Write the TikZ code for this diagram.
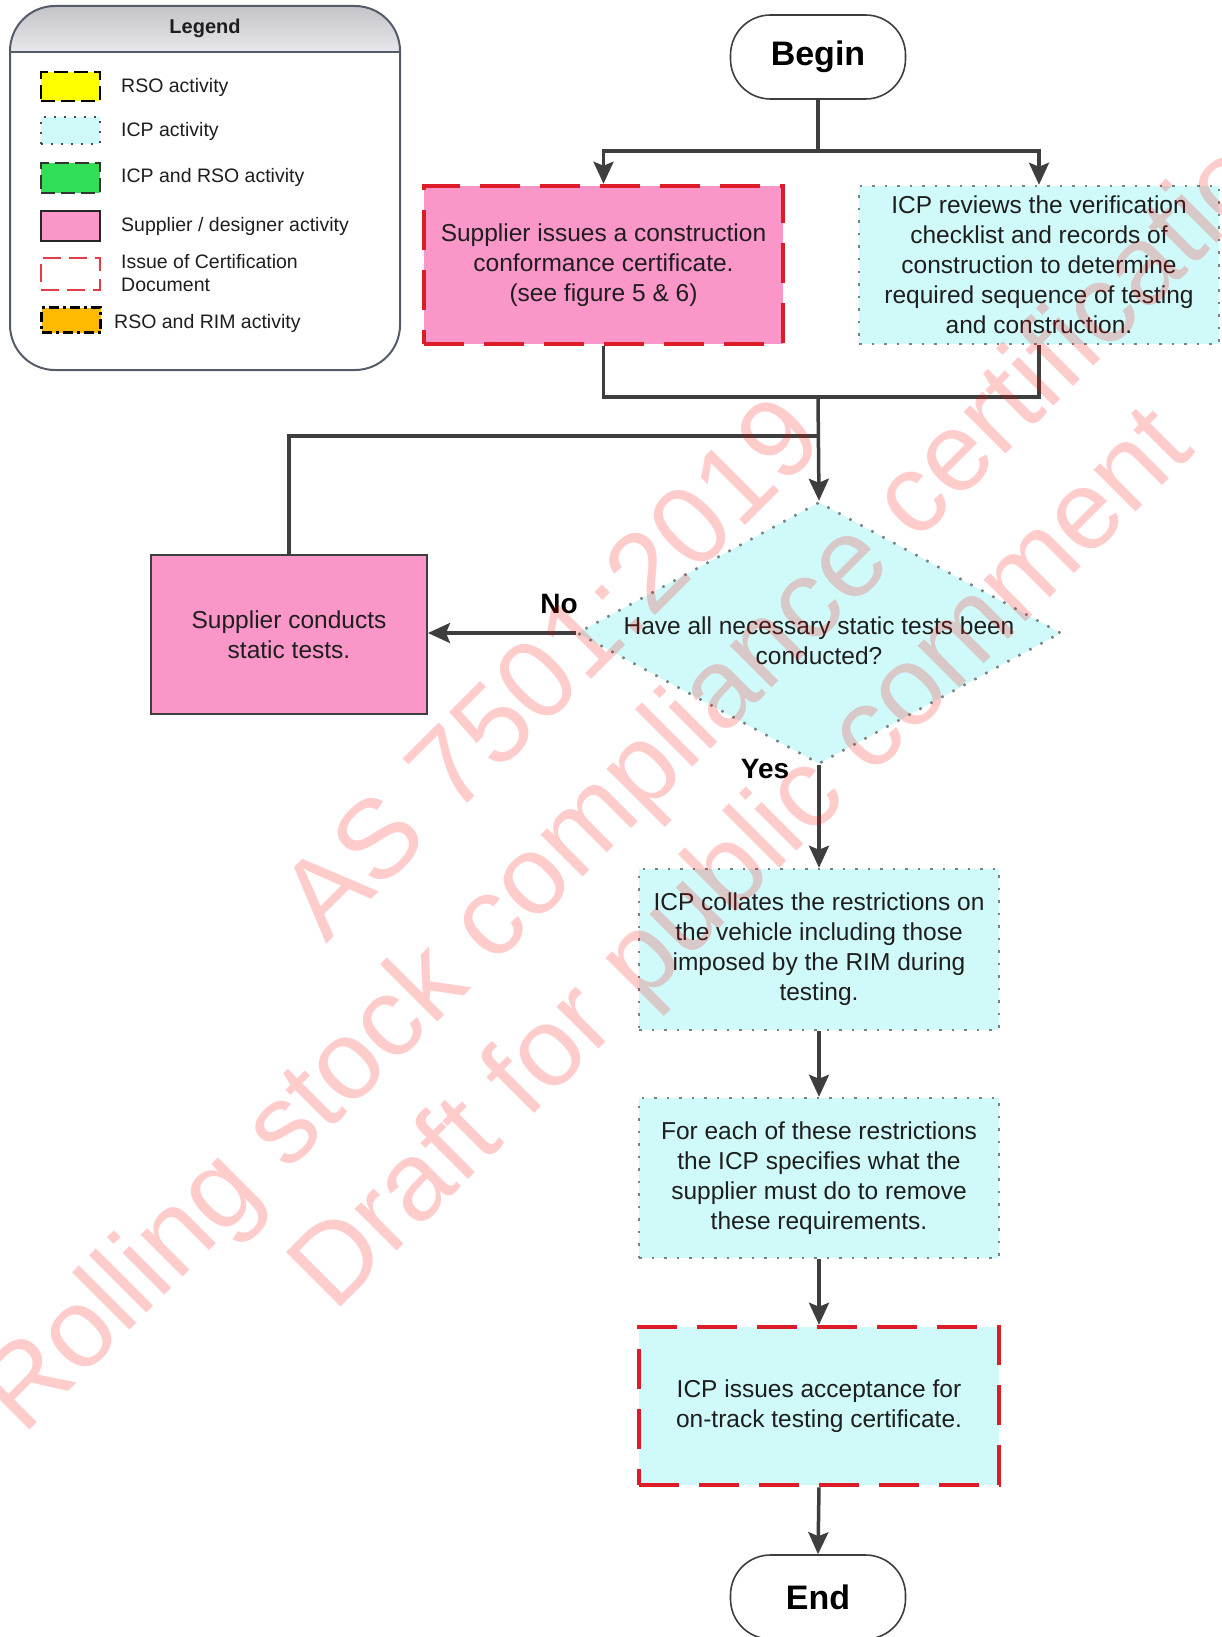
\documentclass[tikz,border=0pt]{standalone}
\usepackage{fontspec}
\setmainfont{Liberation Sans}
\usetikzlibrary{shapes.geometric,arrows.meta}

\definecolor{supplierpink}{RGB}{250,150,200}
\definecolor{icpcyan}{RGB}{208,250,250}
\definecolor{certred}{RGB}{222,28,40}
\definecolor{dotgray}{RGB}{120,130,130}
\definecolor{linegray}{RGB}{62,62,62}
\definecolor{rsoyellow}{RGB}{255,255,0}
\definecolor{icprsogreen}{RGB}{50,222,85}
\definecolor{rimorange}{RGB}{255,185,0}
\definecolor{legendedge}{RGB}{85,92,105}
\definecolor{headtop}{RGB}{196,196,200}
\definecolor{headbottom}{RGB}{232,232,236}
\definecolor{inkdark}{RGB}{30,30,30}

\begin{document}
\begin{tikzpicture}[x=1pt,y=-1pt,
  bodyfont/.style={font=\fontsize{24.5}{30}\selectfont},
  activity/.style={rectangle, inner sep=0pt, align=center, text=inkdark, bodyfont},
  icpbox/.style={fill=icpcyan, draw=dotgray, line width=2.5pt, dash pattern=on 2.5pt off 10pt},
  certedge/.style={draw=certred, line width=4.5pt, dash pattern=on 40pt off 20pt},
  terminal/.style={rectangle, draw=linegray, line width=1.6pt, fill=white,
    rounded corners=40pt, minimum width=175pt, minimum height=84pt, inner sep=0pt,
    font=\fontsize{34}{40}\selectfont\bfseries},
  decision/.style={diamond, fill=icpcyan, draw=dotgray, line width=2.5pt,
    dash pattern=on 2.5pt off 10pt, inner sep=0pt},
  branchlabel/.style={inner sep=0pt, font=\fontsize{28}{32}\selectfont\bfseries},
  conn/.style={draw=linegray, line width=3.5pt},
  arrow/.style={conn, -{Stealth[length=22pt,width=20pt,inset=4pt]}},
  swatch/.style={rectangle, inner sep=0pt, minimum width=59pt},
  legendtext/.style={inner sep=0pt, anchor=west, align=left, text=inkdark,
    font=\fontsize{19.5}{23}\selectfont},
  watermark/.style={inner sep=0pt, rotate=45, anchor=base west, text=red,
    text opacity=0.2, font=\fontsize{112}{130}\selectfont}
]
\useasboundingbox (0,0) rectangle (1221,1637);
\fill[white] (0,0) rectangle (1221,1637);

% ---------- legend ----------
\begin{scope}
  \clip[rounded corners=45pt] (10,6) rectangle (400,370);
  \shade[top color=headtop, bottom color=headbottom] (10,6) rectangle (400,52);
\end{scope}
\node[draw=legendedge, line width=2pt, rounded corners=45pt, inner sep=0pt,
  minimum width=390pt, minimum height=364pt] (legend) at (205,188) {};
\draw[legendedge, line width=2pt] (legend.west |- 0,52) -- (legend.east |- 0,52);
\node[inner sep=0pt, font=\fontsize{20}{24}\selectfont\bfseries, text=inkdark] (legendtitle) at (205,28) {Legend};

\node[swatch, minimum height=29pt, fill=rsoyellow, draw=black, line width=2.5pt,
  dash pattern=on 14pt off 6pt] (keyrso) at (70.5,86.5) {};
\node[swatch, minimum height=27pt, fill=icpcyan, draw=black!70, line width=2pt,
  dash pattern=on 2pt off 8pt] (keyicp) at (70.5,130.5) {};
\node[swatch, minimum height=30pt, fill=icprsogreen, draw=black!80, line width=2.5pt,
  dash pattern=on 14pt off 6pt] (keyboth) at (70.5,178) {};
\node[swatch, minimum height=30pt, fill=supplierpink, draw=black!85, line width=2pt] (keysup) at (70.5,226) {};
\node[swatch, minimum height=32pt, draw=certred!85, line width=2pt,
  dash pattern=on 18pt off 8pt] (keycert) at (70.5,274) {};
\node[swatch, minimum height=25pt, fill=rimorange, draw=black, line width=2.5pt,
  dash pattern=on 10pt off 4pt on 3pt off 4pt] (keyrim) at (71,320) {};

\node[legendtext] (keyrsotext) at (121,87) {RSO activity};
\node[legendtext] (keyicptext) at (121,131) {ICP activity};
\node[legendtext] (keybothtext) at (121,177) {ICP and RSO activity};
\node[legendtext] (keysuptext) at (121,226) {Supplier / designer activity};
\node[legendtext] (keycerttext) at (121,273.5) {Issue of Certification\\Document};
\node[legendtext] (keyrimtext) at (114,323) {RSO and RIM activity};

% ---------- flow ----------
\node[terminal] (begin) at (818,57) {Begin};

\node[activity, fill=supplierpink, certedge, minimum width=359pt, minimum height=158pt]
  (supissue) at (603.5,265) {Supplier issues a construction\\conformance certificate.\\(see figure 5 \& 6)};
\node[activity, icpbox, minimum width=360pt, minimum height=158pt]
  (icpreview) at (1039,265) {ICP reviews the verification\\checklist and records of\\construction to determine\\required sequence of testing\\and construction.};

\node[decision, minimum width=484pt, minimum height=262pt] (question) at (819,633) {};
\node[activity] (questiontext) at (819,641) {Have all necessary static tests been\\conducted?};

\node[activity, fill=supplierpink, draw=linegray, line width=2pt,
  minimum width=276pt, minimum height=159pt] (conduct) at (289,634.5) {Supplier conducts\\static tests.};

\node[activity, icpbox, minimum width=360pt, minimum height=161pt]
  (collate) at (819,949.5) {ICP collates the restrictions on\\the vehicle including those\\imposed by the RIM during\\testing.};
\node[activity, icpbox, minimum width=360pt, minimum height=160pt]
  (restrict) at (819,1178) {For each of these restrictions\\the ICP specifies what the\\supplier must do to remove\\these requirements.};
\node[activity, icpbox, certedge, minimum width=360pt, minimum height=158pt]
  (accept) at (819,1406) {ICP issues acceptance for\\on-track testing certificate.};

\node[terminal] (finish) at (818,1597) {End};

\node[branchlabel] (nolabel) at (559,604) {No};
\node[branchlabel] (yeslabel) at (765,769) {Yes};

% ---------- connectors ----------
\coordinate (fork) at (818,151);
\coordinate (merge) at (818,397);
\coordinate (loopjoin) at (818,436);

\draw[conn] (begin.south) -- (fork);
\draw[arrow] (fork) -| (supissue.north);
\draw[arrow] (fork) -| (icpreview.north);
\draw[conn] (supissue.south) |- (merge);
\draw[conn] (icpreview.south) |- (merge);
\draw[arrow] (merge) -- (question.north);
\draw[conn] (conduct.north) |- (loopjoin);
\draw[arrow] (question.west) -- (question.west -| conduct.east);
\draw[arrow] (question.south) -- (collate.north);
\draw[arrow] (collate.south) -- (restrict.north);
\draw[arrow] (restrict.south) -- (accept.north);
\draw[arrow] (accept.south) -- (finish.north);

% ---------- draft watermark ----------
\begin{scope}
  \clip (0,0) rectangle (1221,1637);
  \node[watermark] (wmstandard) at (326,945) {AS 7501:2019};
  \node[watermark] (wmtitle) at (23,1437) {Rolling stock compliance certification};
  \node[watermark] (wmdraft) at (334,1314) {Draft for public comment};
\end{scope}
\end{tikzpicture}
\end{document}
